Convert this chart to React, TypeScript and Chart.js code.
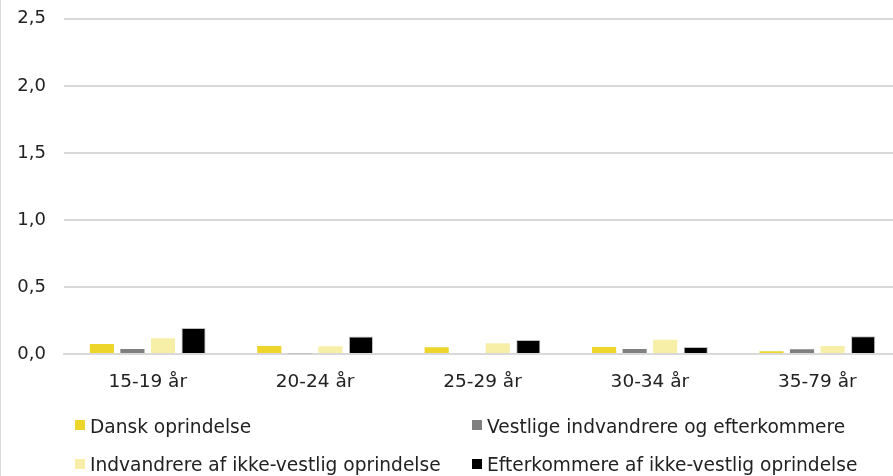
import React, { useEffect, useRef } from "react";
import { Chart, registerables } from "chart.js";

Chart.register(...registerables);

const categories = ["15-19 år", "20-24 år", "25-29 år", "30-34 år", "35-79 år"];
const seriesNames = [
  "Dansk oprindelse",
  "Vestlige indvandrere og efterkommere",
  "Indvandrere af ikke-vestlig oprindelse",
  "Efterkommere af ikke-vestlig oprindelse",
];
const dansk = [0.075, 0.06, 0.05, 0.052, 0.02];
const vestlige = [0.037, 0.005, 0.0, 0.037, 0.035];
const indvandrere = [0.117, 0.057, 0.08, 0.107, 0.06];
const efterkommere = [0.194, 0.13, 0.105, 0.052, 0.132];
const yMin = 0;
const yMax = 2.5;
const yStep = 0.5;

const colors = ["#EDD52B", "#808080", "#F7EEA8", "#000000"];
const borders = ["#EDD52B", "#808080", "#F7EEA8", "#BFBFBF"];
const FONT = "'DejaVu Sans', Verdana, sans-serif";

export default function App() {
  const ref = useRef<HTMLCanvasElement | null>(null);

  useEffect(() => {
    document.body.style.margin = "0";
    if (!ref.current) return;
    const values = [dansk, vestlige, indvandrere, efterkommere];
    const chart = new Chart(ref.current, {
      type: "bar",
      data: {
        labels: categories,
        datasets: seriesNames.map((name, i) => ({
          label: name,
          data: values[i],
          backgroundColor: colors[i],
          borderColor: borders[i],
          borderWidth: i === 3 ? 1 : 0,
          categoryPercentage: 0.73,
          barPercentage: 0.79,
        })),
      },
      options: {
        animation: false,
        responsive: false,
        maintainAspectRatio: false,
        layout: { padding: { top: 8, bottom: 82, left: 0, right: 0 } },
        plugins: { legend: { display: false }, tooltip: { enabled: false } },
        scales: {
          x: {
            grid: { display: false, drawTicks: false },
            border: { display: true, color: "#D9D9D9", width: 2 },
            ticks: {
              color: "#222",
              font: { family: FONT, size: 18.5 },
              padding: 17,
              maxRotation: 0,
            },
            afterFit: (s: any) => {
              s.height = 40;
            },
          },
          y: {
            min: yMin,
            max: yMax,
            grid: { color: "#D9D9D9", lineWidth: 2, drawTicks: false },
            border: { display: false },
            ticks: {
              stepSize: yStep,
              color: "#222",
              font: { family: FONT, size: 18 },
              padding: 18,
              callback: (v: any) => Number(v).toFixed(1).replace(".", ","),
            },
            afterFit: (s: any) => {
              s.width = 64;
            },
          },
        },
      },
    });
    return () => chart.destroy();
  }, []);

  const legendItem = (i: number, left: number, top: number, markerTop: number) => (
    <React.Fragment key={i}>
      <div
        style={{
          position: "absolute",
          left,
          top: markerTop,
          width: 10,
          height: 10,
          background: colors[i],
        }}
      />
      <div
        style={{
          position: "absolute",
          left: left + 15,
          top,
          font: `18.6px ${FONT}`,
          lineHeight: "20px",
          color: "#222",
          whiteSpace: "nowrap",
        }}
      >
        {seriesNames[i]}
      </div>
    </React.Fragment>
  );

  return (
    <div
      style={{
        position: "relative",
        width: 893,
        height: 476,
        overflow: "hidden",
        background: "#fff",
      }}
    >
      <canvas ref={ref} width={901} height={486} style={{ position: "absolute", left: 0, top: -10 }} />
      <div
        style={{
          position: "absolute",
          left: 0,
          top: 0,
          width: 1,
          height: 476,
          background: "#D9D9D9",
        }}
      />
      {legendItem(0, 75, 417, 420)}
      {legendItem(1, 472, 417, 420)}
      {legendItem(2, 75, 455, 459)}
      {legendItem(3, 472, 455, 459)}
    </div>
  );
}
